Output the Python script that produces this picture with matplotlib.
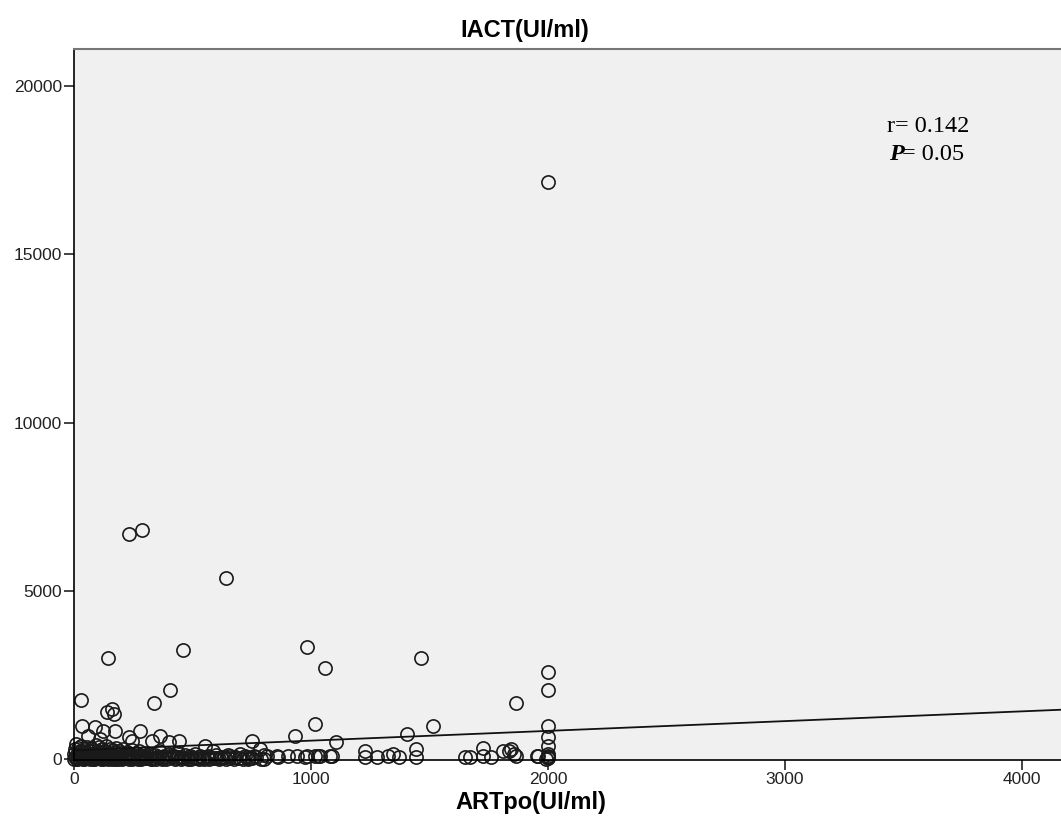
import numpy as np
import matplotlib
matplotlib.use('Agg')
import matplotlib.pyplot as plt

plt.rcParams['font.family'] = ['Liberation Sans', 'DejaVu Sans']

# pontos isolados
x_high = [2000, 234, 289, 642, 145, 459, 983, 1060, 1465, 2000, 2000, 1865, 405, 338, 28,
          139, 160, 167, 1015, 1515, 2000, 2000, 2000, 932, 1405, 1105, 750, 33, 89, 123,
          174, 60, 110, 230, 280, 330, 365, 400, 442, 246, 552, 785, 1445, 1725, 1810,
          1845, 1230, 1835, 1345, 1855]
y_high = [17150, 6680, 6800, 5400, 3000, 3240, 3350, 2700, 3000, 2580, 2060, 1680, 2050, 1660, 1760,
          1395, 1485, 1335, 1050, 1000, 990, 650, 400, 700, 740, 500, 530, 1000, 950, 830,
          830, 690, 590, 650, 830, 530, 680, 500, 530, 530, 400, 300, 300, 350, 250,
          300, 250, 250, 150, 150]

# pontos proximos de zero
x_low = [855, 905, 942, 983, 1040, 1088, 813, 862, 975, 1018, 1030, 1080, 1230, 1278, 1326,
         1370, 1445, 1652, 1672, 1728, 1758, 1865, 1960, 1955, 2000, 2000, 2000, 2000, 1990,
         585, 620, 650, 680, 700, 730, 760, 800, 560, 600]
y_low = [90, 90, 90, 90, 90, 100, 100, 60, 60, 100, 100, 100, 60, 60, 100,
         60, 60, 60, 60, 100, 60, 100, 100, 100, 100, 30, 60, 150, 20,
         250, 80, 120, 60, 150, 60, 90, 120, 60, 30]

# nuvem densa perto da origem
x_dense = [0, 2, 5, 8, 10, 12, 15, 18, 20, 22, 25, 28, 30, 33, 36, 40, 42, 45, 48, 50,
           53, 56, 60, 63, 66, 70, 73, 76, 80, 83, 86, 90, 93, 96, 100, 103, 106, 110, 113, 116,
           120, 123, 126, 130, 133, 136, 140, 143, 146, 150, 153, 156, 160, 163, 166, 170, 173, 176, 180, 183,
           186, 190, 193, 196, 200, 205, 210, 215, 220, 225, 230, 235, 240, 245, 250, 255, 260, 265, 270, 275,
           280, 285, 290, 295, 300, 310, 320, 330, 340, 350, 360, 370, 380, 390, 400, 410, 420, 430, 440, 450,
           460, 470, 480, 490, 500, 510, 520, 530, 540, 550, 565, 580, 600, 620, 640, 660, 680, 700, 720, 740,
           770, 800]
y_dense = [20, 150, 300, 80, 450, 10, 200, 350, 50, 120, 260, 30, 400, 90, 180, 15, 310, 60, 220, 140,
           40, 380, 100, 250, 20, 170, 330, 70, 280, 10, 200, 50, 420, 130, 240, 30, 360, 90, 190, 15,
           300, 60, 150, 250, 25, 400, 110, 200, 45, 320, 80, 160, 10, 270, 120, 40, 210, 350, 70, 150,
           20, 260, 100, 50, 180, 300, 30, 130, 80, 230, 15, 160, 60, 280, 110, 40, 190, 90, 20, 250,
           140, 60, 30, 200, 100, 50, 170, 20, 120, 70, 240, 40, 110, 20, 160, 60, 100, 30, 200, 80,
           40, 140, 20, 90, 60, 160, 30, 110, 50, 20, 90, 40, 120, 50, 20, 100, 60, 30, 90, 40,
           60, 20]

# faixa escura junto ao eixo x
x_band = [4, 14, 24, 34, 44, 54, 64, 74, 84, 94, 104, 114, 124, 134, 144, 154, 164, 174, 184, 194,
          204, 214, 224, 234, 244, 254, 264, 274, 284, 294, 304, 315, 326, 337, 348, 358, 372, 385, 398, 412,
          425, 438, 452, 466, 480, 495, 512, 528, 545, 570, 595, 612, 635, 655, 675, 695, 715, 735, 752, 790]
y_band = [60, 5, 110, 40, 0, 80, 30, 130, 5, 70, 100, 40, 0, 90, 20, 60, 110, 5, 40, 80,
          10, 60, 120, 30, 0, 70, 40, 110, 10, 60, 30, 90, 5, 50, 20, 80, 10, 60, 40, 90,
          20, 70, 5, 40, 80, 10, 50, 20, 60, 10, 40, 20, 70, 30, 10, 50, 20, 10, 40, 10]

# reta de ajuste
fit_a = 265
fit_b = 0.29

r_txt = 'r= 0.142'
p_txt = '= 0.05'

x_all = x_high + x_low + x_dense + x_band
y_all = y_high + y_low + y_dense + y_band

fig = plt.figure(figsize=(10.61, 8.40), dpi=100)
ax = fig.add_axes([74/1061, 80/840, 987/1061, 711/840])
ax.set_facecolor('#f0f0f0')

ax.plot(x_all, y_all, 'o', mfc='none', mec='#1a1a1a', markersize=9.5, mew=1.2, clip_on=False)

xl = np.array([0, 4165])
ax.plot(xl, fit_a + fit_b*xl, '-', color='#111111', lw=1.3)

ax.set_xlim(0, 4165)
ax.set_ylim(-20, 21100)
ax.set_xticks([0, 1000, 2000, 3000, 4000])
ax.set_yticks([0, 5000, 10000, 15000, 20000])

ax.spines['right'].set_visible(False)
ax.spines['top'].set_color('#777777')
ax.spines['top'].set_linewidth(1.5)
ax.spines['left'].set_linewidth(1.2)
ax.spines['bottom'].set_linewidth(1.2)
ax.tick_params(axis='both', direction='out', length=7, width=1.2, labelsize=12.5, colors='#222222')
ax.tick_params(axis='y', pad=1.5)
ax.tick_params(axis='x', pad=2)

fig.text(525/1061, 1-31/840, 'IACT(UI/ml)', fontsize=17, fontweight='bold', ha='center', va='center')
fig.text(531/1061, 1-803/840, 'ARTpo(UI/ml)', fontsize=17, fontweight='bold', ha='center', va='center')

fig.text(887/1061, 1-127/840, r_txt, family=['Liberation Serif'], fontsize=17.5, va='center', ha='left')
fig.text(889/1061, 1-154/840, 'P', family=['Liberation Serif'], fontsize=17.5, fontweight='bold',
         fontstyle='italic', va='center', ha='left')
fig.text(902/1061, 1-154/840, p_txt, family=['Liberation Serif'], fontsize=17.5, va='center', ha='left')

fig.savefig('out.png', dpi=100)
